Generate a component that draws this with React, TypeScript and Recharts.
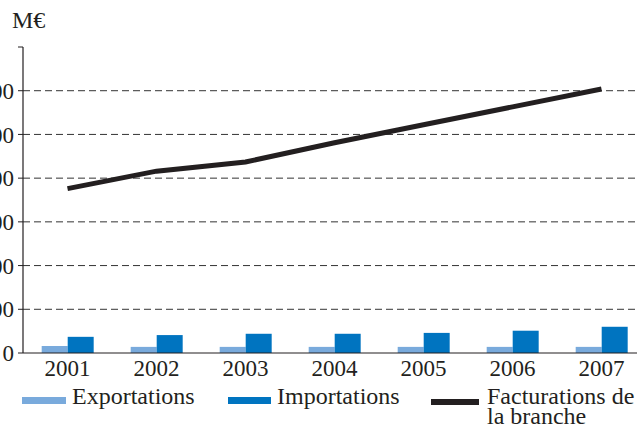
import React from 'react';
import { ComposedChart, Bar, Line, XAxis, YAxis, ReferenceLine } from 'recharts';

const years = ['2001', '2002', '2003', '2004', '2005', '2006', '2007'];
const exportations = [16, 14, 14, 14, 14, 14, 14];
const importations = [37, 41, 44, 44, 46, 51, 60];
const facturations = [376, 416, 437, 481, 522, 563, 604];
const yTicks = [0, 100, 200, 300, 400, 500, 600, 700];
const gridValues = [100, 200, 300, 400, 500, 600];
const sepTicks = [0, 1, 2, 3, 4, 5, 6, 7];

const data = years.map((y, i) => ({
  year: y,
  exp: exportations[i],
  imp: importations[i],
  fact: facturations[i],
}));

const FONT = 'Liberation Serif, Times New Roman, Times, serif';
const C_EXP = '#79aadc';
const C_IMP = '#0074c0';
const C_LINE = '#231f20';

export default function App() {
  return (
    <div style={{ position: 'absolute', left: 0, top: 0, width: 637, height: 426, overflow: 'hidden', background: '#fff', fontFamily: FONT, color: '#231f20' }}>
      <div style={{ position: 'absolute', left: -40, top: 0 }}>
        <ComposedChart
          width={700}
          height={426}
          data={data}
          margin={{ top: 47, right: 14, bottom: 43, left: 0 }}
          barCategoryGap="21%"
          barGap={0}
          style={{ fontFamily: FONT }}
        >
          <XAxis
            xAxisId="sep"
            type="number"
            dataKey="none"
            domain={[0, 7]}
            ticks={sepTicks}
            height={0}
            axisLine={false}
            tick={false}
            tickSize={4}
            tickLine={{ stroke: '#231f20', strokeWidth: 1 }}
            allowDataOverflow
          />
          <XAxis
            dataKey="year"
            height={30}
            axisLine={{ stroke: '#231f20', strokeWidth: 1.2 }}
            tickLine={false}
            tick={{ fill: '#231f20', fontSize: 23, fontFamily: FONT, style: { fontFamily: FONT } }}
            tickMargin={1}
            interval={0}
          />
          <YAxis
            domain={[0, 700]}
            ticks={yTicks}
            width={63}
            axisLine={{ stroke: '#231f20', strokeWidth: 1.2 }}
            tickLine={{ stroke: '#231f20', strokeWidth: 1 }}
            tickSize={5}
            tickMargin={4}
            tickFormatter={(v: number) => (v === 700 ? '' : String(v))}
            tick={{ fill: '#231f20', fontSize: 23, fontFamily: FONT, style: { fontFamily: FONT } }}
            interval={0}
          />
          {gridValues.map((v) => (
            <ReferenceLine key={v} y={v} stroke="#333" strokeWidth={1} strokeDasharray="7 4" ifOverflow="visible" />
          ))}
          <Bar dataKey="exp" fill={C_EXP} isAnimationActive={false} />
          <Bar dataKey="imp" fill={C_IMP} isAnimationActive={false} />
          <Line dataKey="fact" stroke={C_LINE} strokeWidth={5} dot={false} type="linear" isAnimationActive={false} />
        </ComposedChart>
      </div>
      <div style={{ position: 'absolute', left: 12, top: 7, fontSize: 24, lineHeight: '26px' }}>M€</div>
      <div style={{ position: 'absolute', left: 22, top: 397, width: 44, height: 7, background: C_EXP }} />
      <div style={{ position: 'absolute', left: 72, top: 386, fontSize: 24, lineHeight: '20px', whiteSpace: 'nowrap' }}>Exportations</div>
      <div style={{ position: 'absolute', left: 228, top: 397, width: 43, height: 7, background: C_IMP }} />
      <div style={{ position: 'absolute', left: 277, top: 386, fontSize: 24, lineHeight: '20px', whiteSpace: 'nowrap' }}>Importations</div>
      <div style={{ position: 'absolute', left: 431, top: 399, width: 48, height: 6, background: C_LINE }} />
      <div style={{ position: 'absolute', left: 487, top: 386, fontSize: 24, lineHeight: '20px', whiteSpace: 'nowrap' }}>
        Facturations de<br />la branche
      </div>
    </div>
  );
}
